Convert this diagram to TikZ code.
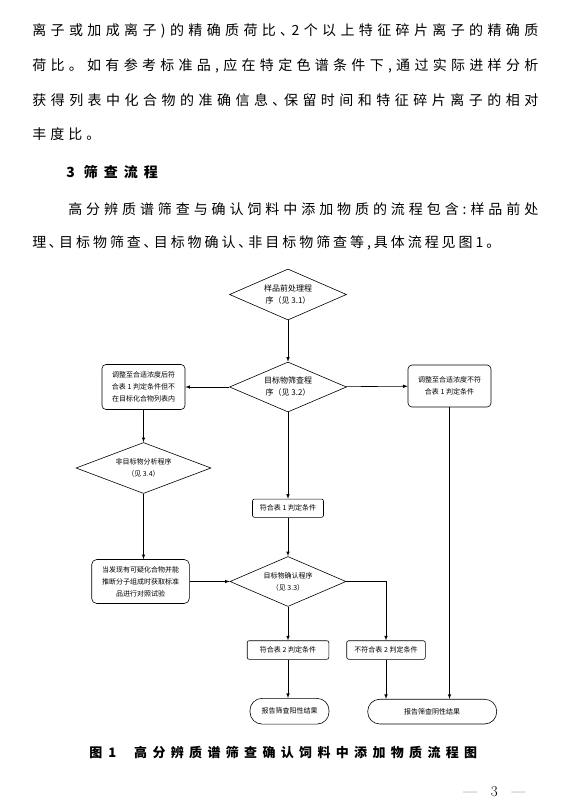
\documentclass[tikz,border=0pt]{standalone}
\usepackage{fontspec}
\newfontfamily\cjk{Noto Sans CJK SC}
\usetikzlibrary{arrows,shapes.geometric}

% spread the characters of one line evenly over a given width
\newcommand\spreadline[2]{\makebox[#1][s]{\spreadfirst#2\relax}}
\def\spreadfirst#1{#1\spreadrest}
\def\spreadrest#1{\ifx\relax#1\else\hfil#1\expandafter\spreadrest\fi}

\begin{document}
\begin{tikzpicture}[x=1pt,y=-1pt,->,>=latex,line width=0.6pt,
	txt/.style={font=\cjk\fontsize{14}{16}\selectfont,anchor=west,inner sep=0pt},
	decision/.style={diamond,draw,aspect=2.3,inner sep=0pt,align=center,
		font=\cjk\fontsize{7}{12}\selectfont},
	process/.style={rectangle,draw,rounded corners=4pt,inner sep=0pt,align=center,
		font=\cjk\fontsize{7}{12}\selectfont},
	terminal/.style={process,rounded corners=12pt}]
	\useasboundingbox (0,0) rectangle (568,805);
	
	% text above the figure
	\node[txt](l1) at (32,31) {\spreadline{506pt}{离子或加成离子)的精确质荷比､2个以上特征碎片离子的精确质}};
	\node[txt](l2) at (32,66) {\spreadline{506pt}{荷比。如有参考标准品,应在特定色谱条件下,通过实际进样分析}};
	\node[txt](l3) at (32,100) {\spreadline{506pt}{获得列表中化合物的准确信息､保留时间和特征碎片离子的相对}};
	\node[txt](l4) at (32,134) {\spreadline{68pt}{丰度比。}};
	\node[txt,font=\cjk\bfseries\fontsize{14}{16}\selectfont](sec) at (66,172)
		{3\hspace{9pt}\spreadline{74pt}{筛查流程}};
	\node[txt](l5) at (68,209) {\spreadline{470pt}{高分辨质谱筛查与确认饲料中添加物质的流程包含:样品前处}};
	\node[txt](l6) at (32,243) {\spreadline{468pt}{理､目标物筛查､目标物确认､非目标物筛查等,具体流程见图1。}};
	
	% flow chart
	\node[decision,font=\cjk\fontsize{8}{12}\selectfont,minimum width=117pt,minimum height=51pt]
		(pre) at (288,294.5) {样品前处理程\\序（见 3.1）};
	\node[decision,font=\cjk\fontsize{8}{12}\selectfont,minimum width=117pt,minimum height=50pt]
		(scr) at (288,387) {目标物筛查程\\序（见 3.2）};
	\node[process,minimum width=83pt,minimum height=45pt](adjL) at (143.5,387)
		{调整至合适浓度后符\\合表 1 判定条件但不\\在目标化合物列表内};
	\node[process,minimum width=83pt,minimum height=42pt](adjR) at (449.5,386)
		{调整至合适浓度不符\\合表 1 判定条件};
	\node[decision,minimum width=135pt,minimum height=51pt](nta) at (143.5,468)
		{非目标物分析程序\\（见 3.4）};
	\node[process,rounded corners=2pt,minimum width=71pt,minimum height=18.3pt]
		(fit1) at (288,508.2) {符合表 1 判定条件};
	\node[process,rounded corners=5pt,minimum width=97.6pt,minimum height=44pt]
		(susp) at (140.5,581.5) {当发现有可疑化合物并能\\推断分子组成时获取标准\\品进行对照试验};
	\node[decision,minimum width=116pt,minimum height=50pt](conf) at (288,581.5)
		{目标物确认程序\\（见 3.3）};
	\node[process,rounded corners=2pt,minimum width=81.6pt,minimum height=18.6pt]
		(fit2) at (288,650) {符合表 2 判定条件};
	\node[process,rounded corners=2pt,minimum width=78.6pt,minimum height=18.6pt]
		(nofit2) at (386,650) {不符合表 2 判定条件};
	\node[terminal,minimum width=79pt,minimum height=25.7pt](pos) at (289.5,711.2)
		{报告筛查阳性结果};
	\node[terminal,minimum width=129pt,minimum height=24.7pt](neg) at (432.2,711.6)
		{报告筛查阴性结果};
	
	\path (pre) edge (scr)
	      (scr) edge (adjL)
	            edge (adjR)
	            edge (fit1)
	      (fit1) edge (conf)
	      (susp) edge (conf)
	      (conf) edge (fit2)
	      (fit2.south) edge (fit2.south |- pos.north)
	      (adjL) edge (adjL |- nta.north)
	      (nta.south) edge (nta.south |- susp.north)
	      (nofit2) edge (nofit2 |- neg.north)
	      (adjR) edge (adjR |- neg.north);
	\draw (conf.east) -| (nofit2.north);
	
	% caption and page number
	\node[txt,font=\cjk\bfseries\fontsize{13}{16}\selectfont](cap) at (89,752)
		{图\hspace{6pt}1\hspace{18pt}\spreadline{343pt}{高分辨质谱筛查确认饲料中添加物质流程图}};
	\node[txt,font=\fontsize{15}{16}\selectfont](page) at (463,792)
		{\makebox[62pt][s]{—\hfil 3\hfil —}};
\end{tikzpicture}
\end{document}
